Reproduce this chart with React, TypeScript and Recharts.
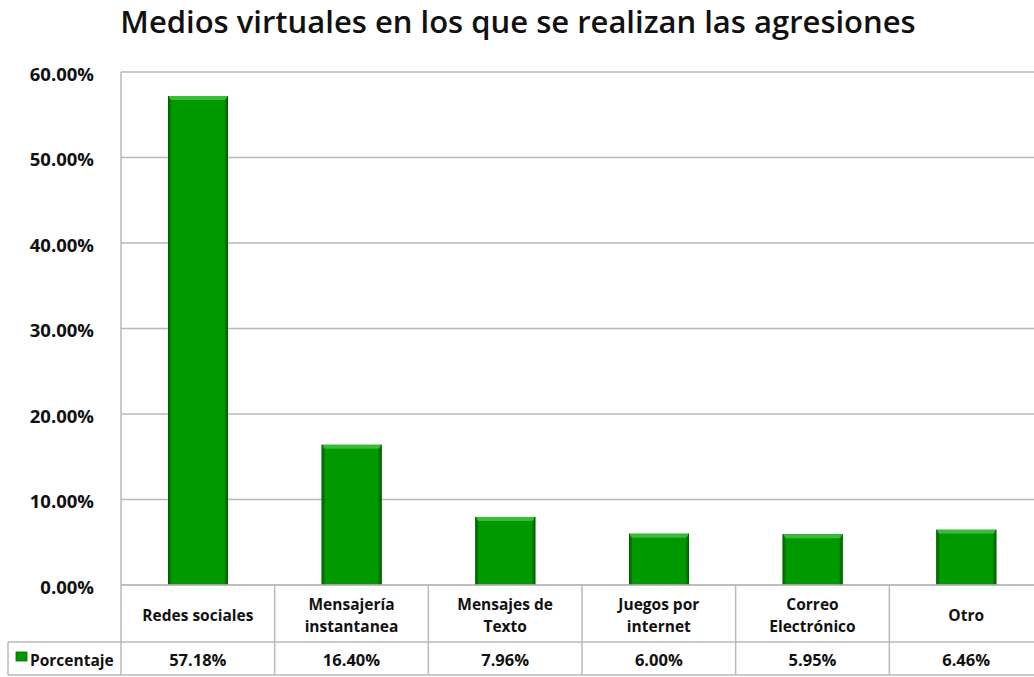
import React from 'react'
import { BarChart, Bar, XAxis, YAxis, CartesianGrid } from 'recharts'

const categories = [
  'Redes sociales',
  'Mensajería\ninstantanea',
  'Mensajes de\nTexto',
  'Juegos por\ninternet',
  'Correo\nElectrónico',
  'Otro',
]
const porcentaje = [57.18, 16.4, 7.96, 6.0, 5.95, 6.46]
const yTicks = [0, 10, 20, 30, 40, 50, 60]
const seriesName = 'Porcentaje'
const title = 'Medios virtuales en los que se realizan las agresiones'

const data = categories.map((c, i) => ({ name: c, value: porcentaje[i] }))

const CHART_W = 1046
const CHART_H = 677
const PLOT_LEFT = 121
const PLOT_TOP = 72
const PLOT_BOTTOM = 585
const TABLE_MID = 642
const TABLE_END = 675
const LEGEND_LEFT = 8
const GRID = '#b9b9b9'
const FONT = '"Open Sans", "DejaVu Sans", sans-serif'

const fmt = (v: number) => v.toFixed(2) + '%'

function BevelBar(props: any) {
  const { x, y, width, height } = props
  if (!height || height <= 0) return null
  const b = Math.min(4, height / 2)
  return (
    <g>
      <rect x={x} y={y} width={width} height={height} fill="#007800" />
      <rect x={x + 3} y={y + b} width={width - 6} height={height - b} fill="#009a00" />
      <polygon
        points={`${x},${y} ${x + width},${y} ${x + width - 3},${y + b} ${x + 3},${y + b}`}
        fill="#3cba3c"
      />
      <line x1={x + 0.5} y1={y} x2={x + 0.5} y2={y + height} stroke="#005e00" strokeWidth={1} />
      <line x1={x + width - 0.5} y1={y} x2={x + width - 0.5} y2={y + height} stroke="#005e00" strokeWidth={1} />
    </g>
  )
}

function TableTick(props: any) {
  const { x, payload, index } = props
  const band = (CHART_W - 3 - PLOT_LEFT) / categories.length
  const lines = String(payload.value).split('\n')
  const left = x - band / 2
  const right = x + band / 2
  const labelMid = (PLOT_BOTTOM + TABLE_MID) / 2 + 1
  const lineH = 22
  const startY = labelMid - ((lines.length - 1) * lineH) / 2
  return (
    <g>
      {lines.map((t, i) => (
        <text
          key={i}
          x={x}
          y={startY + i * lineH}
          textAnchor="middle"
          dominantBaseline="central"
          fontFamily={FONT}
          fontWeight={700}
          fontSize={15.5}
          fill="#111"
        >
          {t}
        </text>
      ))}
      <text
        x={x}
        y={(TABLE_MID + TABLE_END) / 2 + 1}
        textAnchor="middle"
        dominantBaseline="central"
        fontFamily={FONT}
        fontWeight={700}
        fontSize={16.5}
        fill="#111"
      >
        {fmt(porcentaje[index])}
      </text>
      <line x1={right} y1={PLOT_BOTTOM} x2={right} y2={TABLE_END} stroke={GRID} strokeWidth={1.5} />
      <line x1={left} y1={TABLE_MID} x2={right} y2={TABLE_MID} stroke={GRID} strokeWidth={1.5} />
      <line x1={left} y1={TABLE_END} x2={right} y2={TABLE_END} stroke={GRID} strokeWidth={1.5} />
      {index === 0 && (
        <g>
          <line x1={PLOT_LEFT} y1={PLOT_BOTTOM} x2={PLOT_LEFT} y2={TABLE_END} stroke={GRID} strokeWidth={1.5} />
          <line x1={LEGEND_LEFT} y1={TABLE_MID} x2={PLOT_LEFT} y2={TABLE_MID} stroke={GRID} strokeWidth={1.5} />
          <line x1={LEGEND_LEFT} y1={TABLE_END} x2={PLOT_LEFT} y2={TABLE_END} stroke={GRID} strokeWidth={1.5} />
          <line x1={LEGEND_LEFT} y1={TABLE_MID} x2={LEGEND_LEFT} y2={TABLE_END} stroke={GRID} strokeWidth={1.5} />
          <rect x={16} y={652} width={11} height={9} fill="#009a00" stroke="#006400" strokeWidth={0.8} />
          <text
            x={30}
            y={(TABLE_MID + TABLE_END) / 2 + 1}
            dominantBaseline="central"
            fontFamily={FONT}
            fontWeight={700}
            fontSize={15.5}
            fill="#111"
          >
            {seriesName}
          </text>
        </g>
      )}
    </g>
  )
}

export default function App() {
  return (
    <div style={{ position: 'fixed', inset: 0, overflow: 'hidden', background: '#fff' }}>
      <div
        style={{
          position: 'absolute',
          top: 0,
          left: 0,
          width: 1036,
          textAlign: 'center',
          fontFamily: FONT,
          fontWeight: 600,
          fontSize: 31,
          color: '#111',
        }}
      >
        {title}
      </div>
      <div style={{ position: 'absolute', top: 0, left: 0 }}>
        <BarChart
          width={CHART_W}
          height={CHART_H}
          data={data}
          margin={{ top: PLOT_TOP, right: 3, left: 21, bottom: 0 }}
          barSize={60}
        >
          <CartesianGrid vertical={false} stroke={GRID} strokeWidth={1.5} />
          <YAxis
            width={100}
            domain={[0, 60]}
            ticks={yTicks}
            tickFormatter={fmt}
            axisLine={{ stroke: GRID, strokeWidth: 1.5 }}
            tickLine={false}
            tickMargin={21}
            tick={{ fontFamily: FONT, fontWeight: 700, fontSize: 18.5, fill: '#111', dy: 2 }}
          />
          <XAxis
            dataKey="name"
            height={CHART_H - PLOT_BOTTOM}
            axisLine={{ stroke: GRID, strokeWidth: 1.5 }}
            tickLine={false}
            interval={0}
            tick={<TableTick />}
          />
          <Bar dataKey="value" name={seriesName} shape={<BevelBar />} isAnimationActive={false} />
        </BarChart>
      </div>
    </div>
  )
}
